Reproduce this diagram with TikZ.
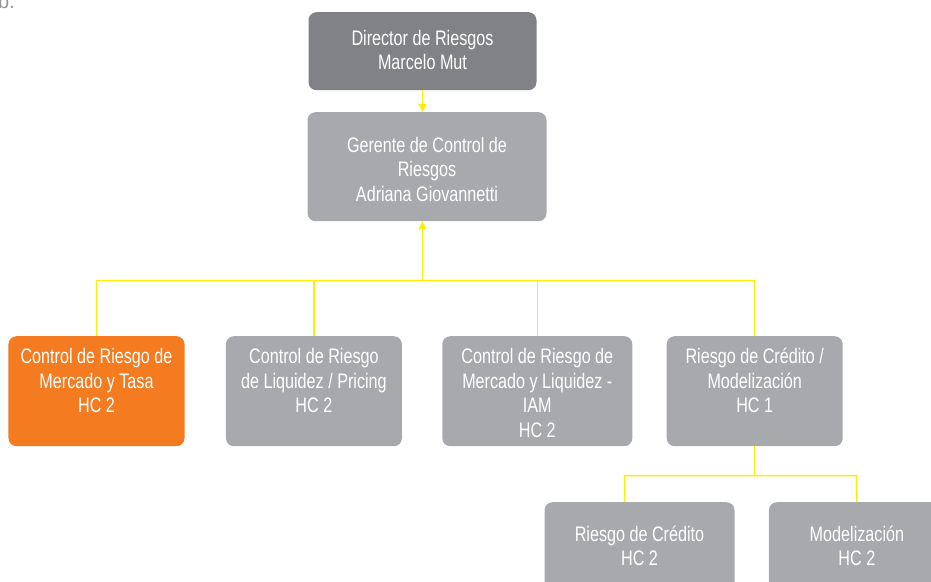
\documentclass[tikz,border=0pt]{standalone}
\usepackage{fontspec}
\setmainfont{Liberation Sans}[FakeStretch=0.77]
\newfontfamily\plainsans{Liberation Sans}
\usepackage{tikz}
\usetikzlibrary{positioning,arrows.meta}
\definecolor{chiefgray}{RGB}{128,130,133}
\definecolor{unitgray}{RGB}{167,169,172}
\definecolor{focusorange}{RGB}{244,123,32}
\definecolor{linkyellow}{RGB}{255,238,0}
\definecolor{fragmentgray}{RGB}{150,150,150}

\begin{document}
\begin{tikzpicture}[x=1bp,y=1bp]
  \tikzset {
    box/.style={
      rectangle,
      rounded corners=8bp,
      fill=unitgray,
      text=white,
      align=center,
      anchor=north,
      inner xsep=0pt,
      inner ysep=0pt,
      font=\fontsize{21bp}{24.5bp}\selectfont
    },
    headbox/.style={box, minimum width=228bp, text height=57.5bp, text depth=20.5bp},
    managerbox/.style={box, minimum width=239bp, text height=89bp, text depth=20bp},
    unitbox/.style={box, minimum width=176bp, text height=76.5bp, text depth=33.5bp},
    teambox/.style={box, minimum width=190bp, text height=63.5bp, text depth=24.5bp},
    link/.style={draw=linkyellow, line width=1.5bp},
    arrowlink/.style={link, -{Triangle[length=8bp,width=8bp]}}
  }
  \useasboundingbox (0,0) rectangle (931,-582);
  \clip (0,0) rectangle (931,-582);

  \node[anchor=base east, text=fragmentgray, font=\plainsans\fontsize{20bp}{24bp}\selectfont, inner sep=0pt](fragment) at (15,-9) {b.};

  \node[headbox, fill=chiefgray](director) at (422.5,-12) {Director de Riesgos\\Marcelo Mut};
  \node[managerbox](gerente) at (427,-112) {Gerente de Control de\\Riesgos\\Adriana Giovannetti};

  \node[unitbox, fill=focusorange](mercado) at (96.5,-336) {Control de Riesgo de\\Mercado y Tasa\\HC 2};
  \node[unitbox, right=41bp of mercado](liquidez) {Control de Riesgo\\de Liquidez / Pricing\\HC 2};
  \node[unitbox, minimum width=190bp, text height=101bp, text depth=9bp, right=40bp of liquidez](iam) {Control de Riesgo de\\Mercado y Liquidez -\\IAM\\HC 2};
  \node[unitbox, right=34bp of iam](credito) {Riesgo de Cr\'edito /\\Modelizaci\'on\\HC 1};

  \node[teambox](riesgocred) at (639.5,-502) {Riesgo de Cr\'edito\\HC 2};
  \node[teambox, minimum width=176bp, right=34bp of riesgocred](modelo) {Modelizaci\'on\\HC 2};

  \coordinate (hub) at (422.5,-280.5);
  \coordinate (split) at (753.5,-475.5);
  \coordinate (dropa) at (624.5,-475.5);
  \coordinate (dropb) at (856.5,-475.5);

  \path (director.south) edge[arrowlink] (director.south |- gerente.north);
  \draw[link] (mercado.north) |- (credito.north |- hub) -- (credito.north);
  \draw[link] (liquidez.north) -- (liquidez.north |- hub);
  \draw[link] (iam.north) -- (iam.north |- hub);
  \path (hub) edge[arrowlink] (hub |- gerente.south);

  \draw[link] (credito.south) -- (credito.south |- split);
  \draw[link] (riesgocred.north -| dropa) -- (dropa) -- (dropb) -- (modelo.north);

\end{tikzpicture}
\end{document}
